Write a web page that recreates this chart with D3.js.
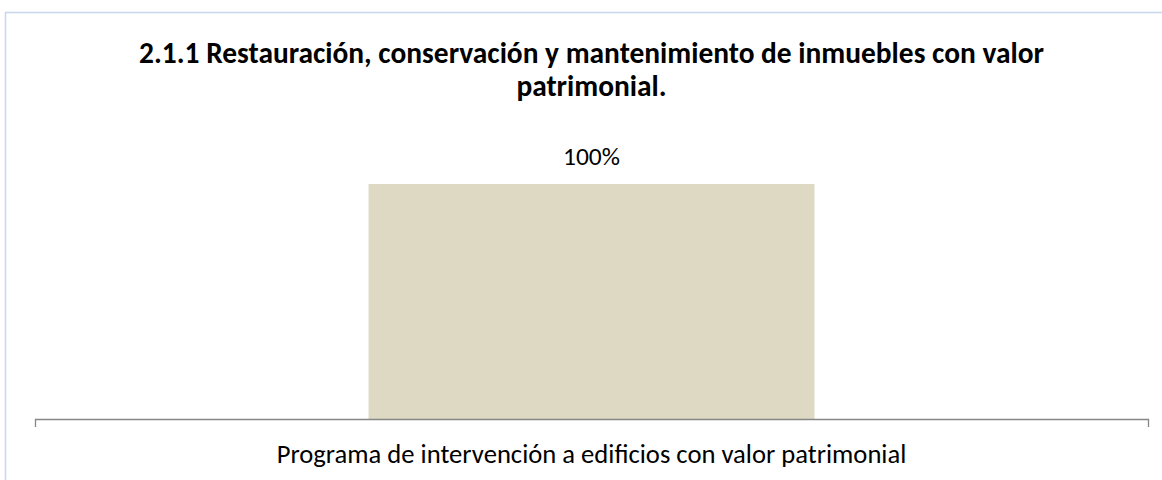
<!DOCTYPE html>
<html>
<head>
<meta charset="utf-8">
<script src="https://cdn.jsdelivr.net/npm/d3@7"></script>
<style>
  html, body { margin: 0; padding: 0; background: #ffffff; }
  svg { display: block; }
  text { font-family: Carlito, Calibri, Lato, "Open Sans", sans-serif; fill: #000; }
</style>
</head>
<body>
<svg id="chart" width="1162" height="480"></svg>
<script>
const titleLines = ["2.1.1 Restauración, conservación y mantenimiento de inmuebles con valor", "patrimonial."];
const categories = ["Programa de intervención a edificios con valor patrimonial"];
const values = [1.0];
const yDomain = [0, 1];

const W = 1162, H = 480;
const svg = d3.select("#chart");

// outer chart border (extends past the right and bottom edges)
svg.append("rect")
  .attr("x", 5.5).attr("y", 12.5)
  .attr("width", 1200).attr("height", 520)
  .attr("fill", "#fff")
  .attr("stroke", "#c6d7ee").attr("stroke-width", 1.5);

const plot = { left: 35, right: 1148, top: 184, bottom: 419 };

const x = d3.scaleBand()
  .domain(categories)
  .range([plot.left, plot.right])
  .paddingInner(0)
  .paddingOuter(0.748);

const y = d3.scaleLinear().domain(yDomain).range([plot.bottom, plot.top]);

function fit(sel, target) {
  const base = 20;
  sel.style("font-size", base + "px");
  const len = sel.node().getComputedTextLength();
  sel.style("font-size", (base * target / len) + "px");
}

// bars
svg.selectAll("rect.bar")
  .data(values)
  .join("rect")
  .attr("class", "bar")
  .attr("x", (d, i) => x(categories[i]))
  .attr("y", d => y(d))
  .attr("width", x.bandwidth())
  .attr("height", d => y(0) - y(d))
  .attr("fill", "#ddd9c3");

// data labels
svg.selectAll("text.dl")
  .data(values)
  .join("text")
  .attr("class", "dl")
  .attr("x", (d, i) => x(categories[i]) + x.bandwidth() / 2)
  .attr("y", d => y(d) - 19)
  .attr("text-anchor", "middle")
  .text(d => d3.format(".0%")(d))
  .each(function() { fit(d3.select(this), 57); });

// x axis
const axis = svg.append("g")
  .attr("transform", `translate(0,${plot.bottom})`)
  .call(d3.axisBottom(x).tickSizeInner(0).tickSizeOuter(8).tickPadding(0));
axis.select(".domain").attr("stroke", "#868686").attr("stroke-width", 1.3);
axis.selectAll(".tick line").remove();
axis.selectAll(".tick text")
  .attr("y", 44).attr("dy", null)
  .attr("fill", "#000")
  .style("font-family", 'Carlito, Calibri, Lato, "Open Sans", sans-serif')
  .each(function() { fit(d3.select(this), 630); });

// title
const tcx = (plot.left + plot.right) / 2;
const t1 = svg.append("text")
  .attr("x", tcx).attr("y", 62.5)
  .attr("text-anchor", "middle")
  .style("font-weight", "bold")
  .text(titleLines[0]);
fit(t1, 905);
const t2 = svg.append("text")
  .attr("x", tcx).attr("y", 95.5)
  .attr("text-anchor", "middle")
  .style("font-weight", "bold")
  .text(titleLines[1]);
t2.style("font-size", t1.style("font-size"));
</script>
</body>
</html>
